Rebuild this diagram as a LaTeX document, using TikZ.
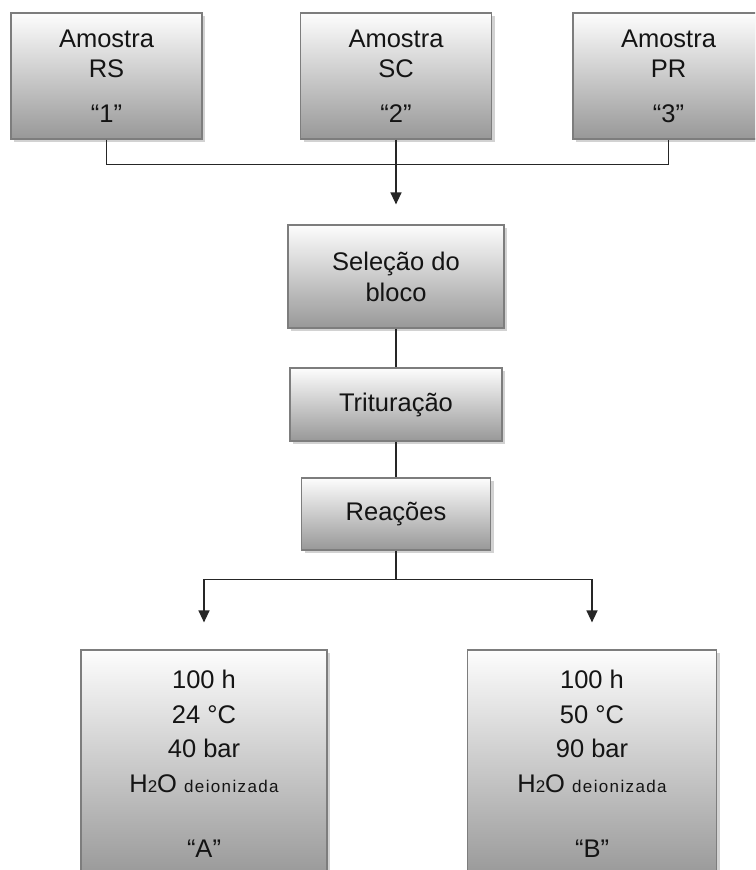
\documentclass[tikz,border=0pt]{standalone}
\usepackage{fontspec}
\setmainfont{Liberation Sans}
\usetikzlibrary{arrows.meta,shadows,calc}
\definecolor{boxtop}{RGB}{253,253,253}
\definecolor{boxbot}{RGB}{152,152,152}
\definecolor{boxline}{RGB}{125,125,125}
\definecolor{ink}{RGB}{20,20,20}
% small, slightly spaced type for the water line
\newcommand{\smalltype}[1]{{\fontsize{17}{17}\selectfont\addfontfeature{LetterSpace=8}#1}}
\begin{document}
\begin{tikzpicture}[x=1pt,y=-1pt,
  box/.style={draw=boxline, line width=1.2pt, top color=boxtop, bottom color=boxbot,
    align=center, text=ink, font=\fontsize{25.5}{30}\selectfont, inner sep=0pt,
    drop shadow={shadow xshift=3pt,shadow yshift=-3pt,opacity=0.35}},
  link/.style={draw=black!85, line width=1.3pt},
  tip/.style={-{Triangle[width=11pt,length=12pt]}}]
  \clip (0,0) rectangle (755,870);
  \fill[white] (0,0) rectangle (755,870);

  % sample boxes
  \node[box, minimum width=191pt, minimum height=126pt] (s1) at (106.5,76) {Amostra\\RS\\[15pt]“1”};
  \node[box, minimum width=191pt, minimum height=126pt] (s2) at (396,76) {Amostra\\SC\\[15pt]“2”};
  \node[box, minimum width=191pt, minimum height=126pt] (s3) at (668.5,76) {Amostra\\PR\\[15pt]“3”};

  % processing steps
  \node[box, minimum width=216pt, minimum height=103pt, font=\fontsize{25.5}{31}\selectfont] (sel) at (396,276.5) {Seleção do\\bloco};
  \node[box, minimum width=212pt, minimum height=73pt] (tri) at (396,404.5) {Trituração};
  \node[box, minimum width=189pt, minimum height=72pt] (rea) at (396,514) {Reações};

  % reaction conditions
  \node[box, minimum width=246pt, minimum height=228pt, font=\fontsize{25.5}{34.5}\selectfont] (A) at (204,764)
    {100 h\\24 °C\\40 bar\\H\smalltype{2}O \smalltype{deionizada}\\[31pt]“A”};
  \node[box, minimum width=249pt, minimum height=228pt, font=\fontsize{25.5}{34.5}\selectfont] (B) at (592,764)
    {100 h\\50 °C\\90 bar\\H\smalltype{2}O \smalltype{deionizada}\\[31pt]“B”};

  % connectors
  \draw[link] (s1.south) -- ++(0,25) -| (s3.south);
  \draw[link, tip, shorten >=20pt] (s2.south) -- (sel.north);
  \draw[link] (sel.south) -- (tri.north);
  \draw[link] (tri.south) -- (rea.north);
  \draw[link] (rea.south) -- ++(0,29) coordinate (split);
  \draw[link, tip, shorten >=27pt] (split) -| (A.north);
  \draw[link, tip, shorten >=27pt] (split) -| (B.north);
\end{tikzpicture}
\end{document}
